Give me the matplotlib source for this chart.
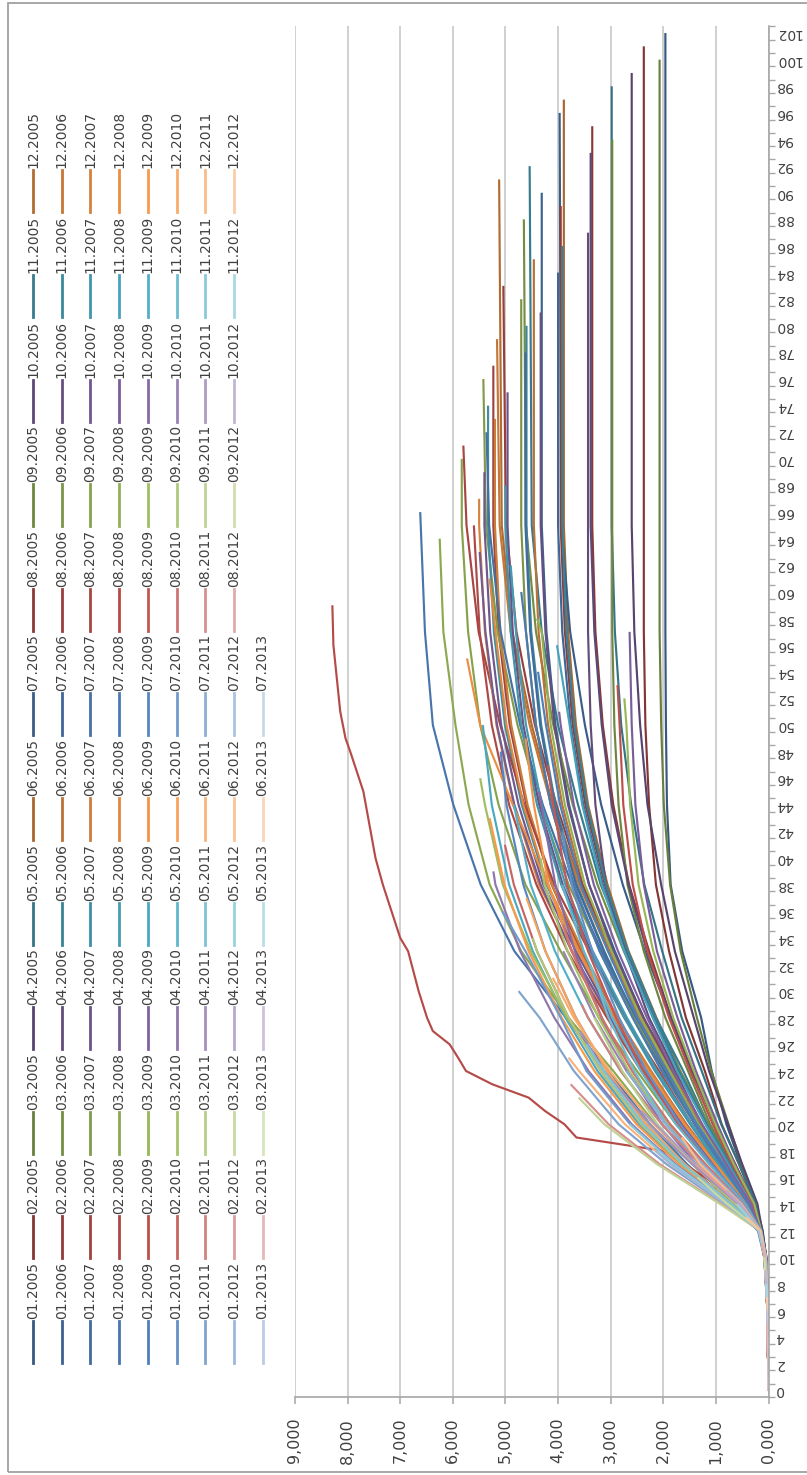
import numpy as np
import matplotlib
matplotlib.use("Agg")
import matplotlib.pyplot as plt
import matplotlib.colors as mcolors
from matplotlib.lines import Line2D
from matplotlib.patches import Rectangle

# ---------------- data ----------------
YEARS = [2005, 2006, 2007, 2008, 2009, 2010, 2011, 2012, 2013]
MONTHS_LAST_YEAR = 7
NAMES = [f"{m:02d}.{y}" for y in YEARS for m in range(1, 13)
         if not (y == 2013 and m > MONTHS_LAST_YEAR)]

# category positions at which values were read
GRID = [0, 6, 10, 12, 14, 17, 20, 24, 28, 33, 38, 44, 50, 57, 65]

V2005 = [
    [0, 20, 50, 110, 240, 530, 800, 1080, 1280, 1640, 1860, 1930, 1950, 1960, 1960],
    [0, 10, 50, 130, 250, 560, 890, 1210, 1570, 1890, 2140, 2270, 2340, 2370, 2370],
    [0, 20, 60, 140, 220, 510, 760, 1090, 1360, 1670, 1870, 1990, 2040, 2070, 2070],
    [0, 0, 40, 120, 210, 500, 770, 1130, 1420, 1780, 2040, 2300, 2440, 2550, 2600],
    [0, 10, 60, 150, 240, 560, 900, 1270, 1650, 2020, 2360, 2610, 2800, 2920, 2980],
    [0, 20, 70, 160, 310, 750, 1160, 1680, 2130, 2660, 3060, 3430, 3660, 3810, 3890],
    [0, 10, 50, 130, 280, 640, 990, 1440, 1860, 2350, 2770, 3180, 3490, 3770, 3940],
    [0, 20, 60, 150, 270, 630, 1020, 1430, 1850, 2270, 2650, 2950, 3150, 3290, 3350],
    [0, 10, 80, 170, 300, 700, 1110, 1530, 1960, 2370, 2680, 2850, 2930, 2970, 2970],
    [0, 0, 40, 120, 270, 650, 1000, 1460, 1850, 2310, 2660, 2980, 3170, 3310, 3380],
    [0, 20, 70, 160, 320, 720, 1150, 1620, 2140, 2670, 3190, 3620, 4000, 4310, 4500],
    [0, 10, 60, 150, 360, 830, 1270, 1850, 2400, 3030, 3570, 4100, 4500, 4870, 5070],
]
END_X_2005 = [102, 101, 100, 99, 98, 97, 96, 95, 94, 93, 92, 91]
END_V_2005 = [1960, 2370, 2070, 2600, 2980, 3890, 3970, 3350, 2970, 3380, 4540, 5120]

V2006 = [
    [0, 20, 70, 170, 340, 810, 1300, 1840, 2380, 2920, 3410, 3790, 4050, 4220, 4310],
    [0, 10, 50, 140, 320, 760, 1180, 1710, 2160, 2700, 3110, 3480, 3720, 3870, 3950],
    [0, 20, 60, 150, 330, 750, 1150, 1680, 2180, 2750, 3250, 3720, 4090, 4420, 4610],
    [0, 10, 70, 160, 340, 810, 1280, 1770, 2270, 2730, 3090, 3290, 3380, 3430, 3430],
    [0, 20, 60, 150, 310, 750, 1170, 1700, 2150, 2680, 3090, 3450, 3690, 3840, 3920],
    [0, 10, 50, 140, 360, 840, 1350, 1910, 2460, 3020, 3530, 3920, 4190, 4370, 4460],
    [0, 20, 80, 170, 320, 770, 1190, 1730, 2190, 2730, 3150, 3520, 3760, 3920, 4000],
    [0, 10, 60, 150, 350, 800, 1270, 1800, 2380, 2960, 3540, 4030, 4440, 4790, 4990],
    [0, 20, 70, 160, 380, 900, 1400, 2030, 2580, 3210, 3700, 4140, 4420, 4610, 4700],
    [0, 10, 50, 140, 350, 830, 1290, 1870, 2370, 2950, 3410, 3810, 4070, 4240, 4330],
    [0, 20, 70, 170, 370, 860, 1390, 1970, 2540, 3120, 3640, 4050, 4320, 4510, 4600],
    [0, 10, 60, 150, 360, 840, 1280, 1870, 2420, 3050, 3600, 4130, 4540, 4900, 5110],
]
END_X_2006 = [90, 89, 88, 87, 86, 85, 84, 83, 82, 81, 80, 79]
END_V_2006 = [4310, 3950, 4650, 3430, 3920, 4460, 4000, 5040, 4700, 4330, 4600, 5160]

V2007 = [
    [0, 20, 70, 160, 370, 870, 1400, 1980, 2550, 3130, 3660, 4070, 4340, 4530, 4620],
    [0, 10, 50, 150, 420, 1000, 1560, 2260, 2870, 3570, 4120, 4600, 4920, 5130, 5230],
    [0, 20, 60, 160, 380, 860, 1370, 1940, 2560, 3190, 3800, 4340, 4770, 5150, 5370],
    [0, 10, 70, 170, 400, 950, 1480, 2140, 2720, 3380, 3910, 4360, 4660, 4860, 4960],
    [0, 20, 60, 150, 430, 1000, 1610, 2280, 2940, 3610, 4220, 4690, 5010, 5220, 5330],
    [0, 10, 50, 140, 420, 980, 1570, 2230, 2870, 3530, 4120, 4580, 4890, 5100, 5200],
    [0, 20, 70, 160, 380, 870, 1330, 1940, 2510, 3170, 3740, 4290, 4720, 5090, 5310],
    [0, 10, 60, 150, 410, 920, 1460, 2080, 2740, 3410, 4070, 4640, 5100, 5510, 5740],
    [0, 20, 80, 170, 470, 1100, 1760, 2500, 3220, 3950, 4620, 5130, 5480, 5710, 5830],
    [0, 10, 50, 140, 430, 1020, 1630, 2310, 2980, 3660, 4280, 4750, 5080, 5290, 5400],
    [0, 20, 60, 160, 400, 960, 1490, 2160, 2740, 3410, 3940, 4400, 4700, 4900, 5000],
    [0, 10, 70, 150, 440, 1040, 1660, 2360, 3040, 3730, 4360, 4840, 5170, 5390, 5500],
]
END_X_2007 = [78, 77, 76, 75, 74, 73, 72, 71, 70, 69, 68, 67]
END_V_2007 = [4620, 5230, 5420, 4960, 5330, 5200, 5360, 5800, 5830, 5400, 5000, 5500]

V2008 = [
    [0, 20, 80, 200, 700, 1550, 2250, 3050, 3850, 4830, 5470, 5990, 6380, 6530, 6610],
    [0, 20, 60, 160, 450, 1070, 1670, 2420, 3070, 3820, 4410, 4930, 5260, 5490],
    [0, 10, 60, 190, 650, 1450, 2150, 2950, 3800, 4700, 5300, 5700, 5950, 6180],
    [0, 10, 50, 150, 440, 1050, 1640, 2370, 3010, 3740, 4330, 4830, 5160, 5380],
    [0, 20, 70, 170, 390, 940, 1460, 2120, 2690, 3340, 3860, 4310, 4610, 4800],
    [0, 10, 60, 150, 420, 1000, 1600, 2270, 2930, 3590, 4200, 4660, 4980, 5190],
    [0, 20, 60, 160, 380, 900, 1400, 2030, 2580, 3210, 3700, 4140, 4420, 4610],
    None,  # 08.2008 read at finer positions, see RED_0808_*
    [0, 10, 50, 140, 350, 830, 1330, 1880, 2430, 2980, 3490, 3870, 4140, 4310],
    [0, 20, 60, 150, 260, 640, 970, 1380, 1730, 2120, 2370, 2530, 2600],
    [0, 10, 70, 160, 320, 770, 1200, 1740, 2200, 2740, 3170, 3540, 3780],
    [0, 10, 60, 150, 430, 1010, 1600, 2290, 2930, 3620, 4200, 4860, 5480],
]
END_X_2008 = [66, 65, 64, 63, 62, 61, 60, 59, 58, 57, 56, 55]
END_V_2008 = [6620, 5600, 6250, 5490, 4900, 5300, 4700, 8290, 4400, 2640, 4020, 5730]

RED_0808_X = [0, 6, 10, 12, 14, 16, 17, 18, 19, 20, 21, 22, 23, 24, 25, 26, 27, 28,
              30, 33, 34, 38, 40, 45, 48, 49, 51, 56, 59]
RED_0808_V = [0, 10, 60, 170, 480, 1200, 1600, 2000, 3650, 3880, 4250, 4560, 5250, 5750,
              5900, 6060, 6380, 6490, 6650, 6850, 7000, 7330, 7470, 7700, 7950, 8040,
              8140, 8270, 8290]

V2009 = [
    [0, 20, 60, 150, 360, 850, 1360, 1930, 2490, 3050, 3570, 3960, 4230],
    [0, 20, 60, 160, 290, 690, 1060, 1490, 1890, 2300, 2580, 2760, 2830],
    [0, 10, 50, 140, 270, 660, 1010, 1420, 1810, 2190, 2470, 2630, 2700],
    [0, 20, 70, 150, 340, 800, 1260, 1810, 2310, 2860, 3320, 3700, 3950],
    [0, 10, 60, 160, 730, 1680, 2460, 3250, 3860, 4480, 4930, 5260],
    [0, 20, 70, 170, 480, 1200, 1870, 2590, 3170, 3740, 4180, 4460],
    [0, 10, 50, 150, 690, 1590, 2330, 3070, 3660, 4240, 4660, 4980],
    [0, 20, 60, 160, 440, 1100, 1720, 2380, 2900, 3430, 3830, 4090],
    [0, 10, 80, 180, 580, 1450, 2260, 3130, 3830, 4520, 5050, 5390],
    [0, 20, 60, 150, 600, 1380, 2020, 2670, 3170, 3680, 4050, 4320],
    [0, 10, 50, 140, 520, 1300, 2030, 2810, 3430, 4060, 4520],
    [0, 20, 70, 160, 740, 1710, 2510, 3310, 3930, 4560, 5020],
]
END_X_2009 = [54, 53, 52, 51, 50, 49, 48, 47, 46, 45, 44, 43]
END_V_2009 = [4380, 2870, 2740, 3980, 5430, 4620, 5090, 4200, 5480, 4360, 4840, 5300]

V2010 = [
    [0, 10, 60, 150, 430, 1080, 1680, 2320, 2840, 3350, 3740],
    [0, 20, 50, 170, 720, 1650, 2420, 3190, 3800, 4400, 4840],
    [0, 10, 70, 150, 490, 1230, 1910, 2650, 3230, 3820, 4260],
    [0, 20, 60, 160, 770, 1770, 2600, 3420, 4070, 4720, 5190],
    [0, 10, 50, 140, 450, 1130, 1760, 2430, 2970, 3510],
    [0, 20, 70, 170, 690, 1590, 2330, 3070, 3660, 4240],
    [0, 10, 60, 150, 780, 1790, 2630, 3460, 3950, 4620],
    [0, 20, 60, 160, 480, 1200, 1870, 2590, 3170, 3740],
    [0, 10, 50, 150, 720, 1650, 2420, 3190, 3800, 4400],
    [0, 20, 70, 170, 500, 1250, 1950, 2700, 3300],
    [0, 10, 60, 150, 570, 1320, 1940, 2550, 3040],
    [0, 20, 60, 160, 560, 1400, 2180, 3020, 3700],
]
END_X_2010 = [42, 41, 40, 39, 38, 37, 36, 35, 34, 33, 32, 31]
END_V_2010 = [3920, 5010, 4330, 5230, 3920, 4600, 5060, 3900, 4480, 3900, 3390, 4100]

V2011 = [
    [0, 10, 70, 170, 840, 1940, 2850, 3700, 4350],
    [0, 20, 50, 150, 520, 1300, 2030, 2810, 3430],
    [0, 10, 60, 160, 620, 1440, 2110, 2780],
    [0, 20, 70, 170, 580, 1450, 2260, 3130],
    [0, 10, 60, 150, 700, 1620, 2380, 3130],
    [0, 20, 60, 160, 810, 1860, 2730, 3600],
    [0, 10, 50, 150, 500, 1250, 1950],
    [0, 20, 70, 170, 900, 2070, 3040],
    [0, 10, 60, 160, 920, 2120, 3120],
    [0, 20, 60, 150, 550, 1380, 2150],
    [0, 10, 70, 170, 780, 1800],
    [0, 20, 50, 150, 520, 1300],
]
END_X_2011 = [30, 29, 28, 27, 26, 25, 24, 23, 22, 21, 20, 19]
END_V_2011 = [4750, 3550, 3310, 3580, 3460, 3800, 2700, 3760, 3610, 2420, 2640, 1650]

V2012 = [
    [0, 10, 60, 160, 810, 1860],
    [0, 20, 70, 170, 550],
    [0, 10, 60, 150, 780],
    [0, 20, 60, 160, 540],
    [0, 10, 70, 170],
    [0, 20, 60, 160],
    [0, 10, 60],
    [0, 20, 70],
    [0, 10],
    [0, 20],
    [0, 10],
    [0, 10],
]
END_X_2012 = [18, 17, 16, 15, 14, 13, 12, 11, 10, 9, 8, 7]
END_V_2012 = [2150, 1380, 1350, 800, 600, 420, 190, 130, 80, 60, 40, 30]

V2013 = [[0], [0], [0], [0], [0], [0], []]
END_X_2013 = [6, 5, 4, 3, 2, 1, 0]
END_V_2013 = [10, 10, 0, 0, 0, 0, 0]

VALUE_TICKS = [0, 1000, 2000, 3000, 4000, 5000, 6000, 7000, 8000, 9000]
CAT_TICKS = list(range(0, 103, 2))

ALL_V = V2005 + V2006 + V2007 + V2008 + V2009 + V2010 + V2011 + V2012 + V2013
ALL_EX = (END_X_2005 + END_X_2006 + END_X_2007 + END_X_2008 + END_X_2009 +
          END_X_2010 + END_X_2011 + END_X_2012 + END_X_2013)
ALL_EV = (END_V_2005 + END_V_2006 + END_V_2007 + END_V_2008 + END_V_2009 +
          END_V_2010 + END_V_2011 + END_V_2012 + END_V_2013)

# ---------------- style ----------------
BASE = ["#4F81BD", "#C0504D", "#9BBB59", "#8064A2", "#4BACC6", "#F79646"]
N = len(NAMES)
NLEV = (N - 1) // 6


def series_color(n):
    base = np.array(mcolors.to_rgb(BASE[n % 6]))
    t = (n // 6) / NLEV
    if t < 0.5:
        c = base * (0.68 + 0.64 * t)
    else:
        c = base + (1 - base) * ((t - 0.5) * 2 * 0.68)
    return np.clip(c, 0, 1)


W, H = 807, 1475
fig = plt.figure(figsize=(W / 100, H / 100), dpi=100)
fig.patch.set_facecolor("white")


def fx(px):
    return px / W


def fy(py):
    return 1 - py / H


GRIDC = "#c8c8c8"
AXC = "#a6a6a6"
TXT = "#404040"

ax = fig.add_axes([fx(295), fy(1397), fx(768.5) - fx(295), fy(26.4) - fy(1397)])
ax.set_xlim(9000, 0)
ax.set_ylim(-0.5, 102.5)

for n, name in enumerate(NAMES):
    if ALL_V[n] is None:
        xs, ys = list(RED_0808_X), list(RED_0808_V)
    else:
        ex, ev = ALL_EX[n], ALL_EV[n]
        xs = [g for g in GRID if g < ex]
        ys = list(ALL_V[n][:len(xs)])
        xs = xs[:len(ys)]
        xs.append(ex)
        ys.append(ev)
    ax.plot(ys, xs, color=series_color(n), lw=1.55, solid_joinstyle="round",
            solid_capstyle="butt", zorder=2)

# value axis (horizontal in picture)
ax.set_xticks(VALUE_TICKS)
ax.set_xticklabels([f"{v / 1000:.3f}".replace(".", ",") for v in VALUE_TICKS],
                   rotation=90, fontsize=11.5, color=TXT)
ax.tick_params(axis="x", length=5, width=1.1, color=AXC, pad=10, direction="out")
ax.grid(axis="x", color=GRIDC, lw=1.2, zorder=0)
ax.set_axisbelow(True)

# category axis (vertical in picture, right side)
ax.yaxis.tick_right()
ax.set_yticks(CAT_TICKS)
ax.set_yticklabels([str(v) for v in CAT_TICKS], fontsize=10.0, color=TXT)
for lab in ax.get_yticklabels():
    lab.set_rotation(180)
    lab.set_va("center")
ax.set_yticks(np.arange(-0.5, 103, 1.0), minor=True)
ax.tick_params(axis="y", which="major", length=0, pad=5,
               left=False, right=True, labelleft=False, labelright=True)
ax.tick_params(axis="y", which="minor", length=4, width=1.0, color=AXC,
               direction="out", left=False, right=True)

for s in ["left", "top"]:
    ax.spines[s].set_visible(False)
for s in ["right", "bottom"]:
    ax.spines[s].set_color(AXC)
    ax.spines[s].set_linewidth(1.2)

# legend, drawn in the picture's rotated layout
for n, name in enumerate(NAMES):
    col, row = n // 12, n % 12
    xc = 33 + 28.7 * col
    yb = 1363 - 104.6 * row
    yt = yb - 42
    fig.add_artist(Line2D([fx(xc), fx(xc)], [fy(yb), fy(yt)], transform=fig.transFigure,
                          color=series_color(n), lw=2.0))
    fig.text(fx(xc), fy(yt - 2), name, rotation=90, ha="center", va="bottom",
             fontsize=10.0, color=TXT)

# outer frame
fig.add_artist(Rectangle((fx(8), fy(1472)), fx(820) - fx(8), fy(3) - fy(1472),
                         transform=fig.transFigure, fill=False, ec="#a0a0a0", lw=1.3))

fig.savefig("out.png", dpi=100, facecolor="white")
